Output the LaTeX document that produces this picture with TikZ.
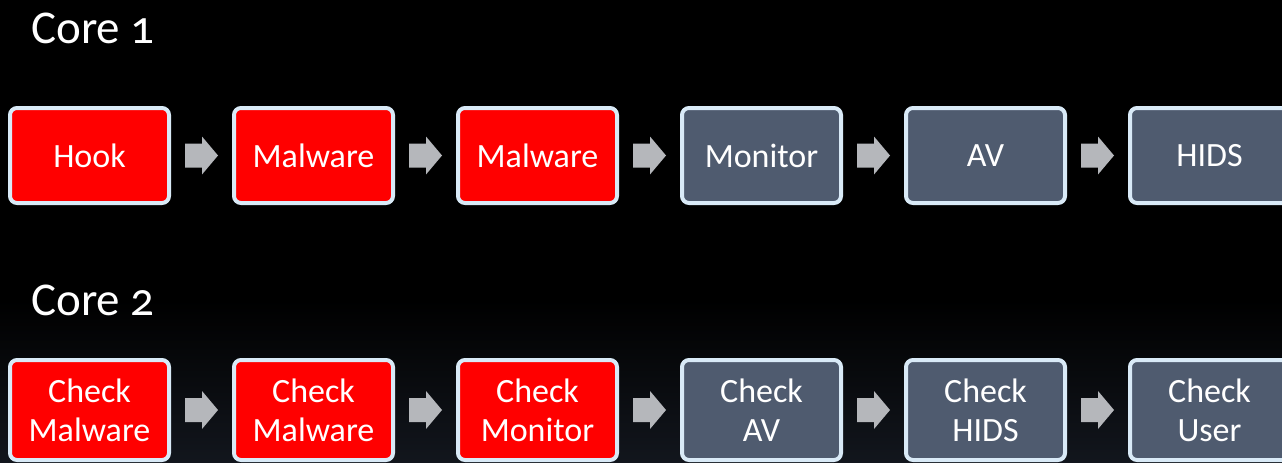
\documentclass[tikz,border=0pt]{standalone}
\usepackage{fontspec}
\setmainfont{Carlito}[Numbers=OldStyle]
\usetikzlibrary{calc}
\definecolor{boxred}{HTML}{FF0000}
\definecolor{boxgray}{HTML}{4F5B6F}
\definecolor{boxedge}{HTML}{D9EAF7}
\definecolor{arrowc}{HTML}{B5B7BB}
\definecolor{bgbottom}{HTML}{12161D}
\tikzset{
  stepbox/.style={rectangle, rounded corners=7pt, draw=boxedge, line width=4pt,
    minimum width=159pt, inner sep=0pt, text=white, align=center,
    font=\fontsize{34}{39}\selectfont},
  rowone/.style={stepbox, minimum height=95pt},
  rowtwo/.style={stepbox, minimum height=100pt},
  hot/.style={fill=boxred},
  cold/.style={fill=boxgray},
  corelabel/.style={anchor=base west, text=white, inner sep=0pt, font=\fontsize{47}{52}\selectfont},
  blockarrow/.style={fill=arrowc}
}
\newcommand{\blockarr}[2]{%
  \fill[blockarrow] ($(#1.east)!0.5!(#2.west)$) ++(-16.5,-12) -- ++(17,0) -- ++(0,-7)
    -- ++(16,19) -- ++(-16,19) -- ++(0,-7) -- ++(-17,0) -- cycle;}
\begin{document}
\begin{tikzpicture}[x=1pt,y=-1pt]
\useasboundingbox (0,0) rectangle (1282,463);
\clip (0,0) rectangle (1282,463);
\fill[black] (0,0) rectangle (1282,301);
\shade[top color=black, bottom color=bgbottom] (0,300) rectangle (1282,463);

\node[corelabel] (core1) at (31,43) {Core 1};
\node[corelabel] (core2) at (31,315) {Core 2};

% row 1
\node[rowone,hot]  (a1) at (89.5,155.5) {Hook};
\node[rowone,hot]  (a2) at (313.5,155.5) {Malware};
\node[rowone,hot]  (a3) at (537.5,155.5) {Malware};
\node[rowone,cold] (a4) at (761.5,155.5) {Monitor};
\node[rowone,cold] (a5) at (985.5,155.5) {AV};
\node[rowone,cold] (a6) at (1209.5,155.5) {HIDS};

% row 2
\node[rowtwo,hot]  (b1) at (89.5,410) {Check\\Malware};
\node[rowtwo,hot]  (b2) at (313.5,410) {Check\\Malware};
\node[rowtwo,hot]  (b3) at (537.5,410) {Check\\Monitor};
\node[rowtwo,cold] (b4) at (761.5,410) {Check\\AV};
\node[rowtwo,cold] (b5) at (985.5,410) {Check\\HIDS};
\node[rowtwo,cold] (b6) at (1209.5,410) {Check\\User};

\blockarr{a1}{a2}\blockarr{a2}{a3}\blockarr{a3}{a4}\blockarr{a4}{a5}\blockarr{a5}{a6}
\blockarr{b1}{b2}\blockarr{b2}{b3}\blockarr{b3}{b4}\blockarr{b4}{b5}\blockarr{b5}{b6}
\end{tikzpicture}
\end{document}
